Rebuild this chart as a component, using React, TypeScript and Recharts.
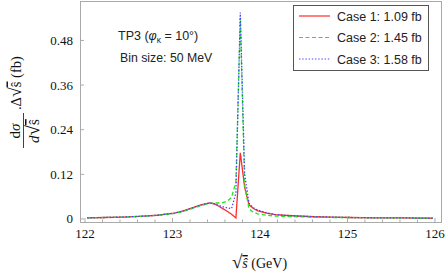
import React from "react";
import { LineChart, Line, XAxis, YAxis } from "recharts";

// bin centres in GeV (50 MeV bins, sparser where the curves are flat)
const energies = [
  122.025, 122.225, 122.425, 122.625, 122.825, 123.025, 123.125, 123.225,
  123.325, 123.425, 123.475, 123.525, 123.575, 123.625, 123.675, 123.725,
  123.775, 123.825, 123.875, 123.925, 123.975, 124.075, 124.175, 124.275,
  124.425, 124.625, 124.825, 125.025, 125.325, 125.625, 125.975,
];

const case1 = [
  0.003, 0.004, 0.005, 0.007, 0.01, 0.016, 0.022, 0.03,
  0.038, 0.043, 0.041, 0.035, 0.028, 0.021, 0.013, 0.003,
  0.178, 0.085, 0.038, 0.028, 0.022, 0.016, 0.012, 0.01,
  0.008, 0.006, 0.005, 0.004, 0.003, 0.003, 0.002,
];

const case2 = [
  0.003, 0.004, 0.005, 0.007, 0.01, 0.015, 0.02, 0.028,
  0.036, 0.042, 0.043, 0.043, 0.044, 0.048, 0.058, 0.1,
  0.54, 0.09, 0.027, 0.018, 0.014, 0.01, 0.008, 0.007,
  0.006, 0.005, 0.004, 0.004, 0.003, 0.003, 0.002,
];

const case3 = [
  0.003, 0.004, 0.005, 0.007, 0.01, 0.016, 0.022, 0.03,
  0.038, 0.043, 0.041, 0.037, 0.033, 0.03, 0.028, 0.07,
  0.555, 0.12, 0.042, 0.03, 0.024, 0.017, 0.012, 0.01,
  0.008, 0.006, 0.005, 0.004, 0.003, 0.003, 0.002,
];

const caseLabels = ["Case 1: 1.09 fb", "Case 2: 1.45 fb", "Case 3: 1.58 fb"];

const xTicks = [
  122, 122.2, 122.4, 122.6, 122.8, 123, 123.2, 123.4, 123.6, 123.8, 124,
  124.2, 124.4, 124.6, 124.8, 125, 125.2, 125.4, 125.6, 125.8, 126,
];
const yTicks = [0, 0.12, 0.24, 0.36, 0.48];

const data = energies.map((e, i) => ({
  e,
  c1: case1[i],
  c2: case2[i],
  c3: case3[i],
}));

const series = [
  { key: "c1", color: "#ff2a2a", dash: undefined },
  { key: "c2", color: "#22e622", dash: "4 2.5" },
  { key: "c3", color: "#4545ff", dash: "1.4 1.8" },
];

const FRAME = "#aaaaaa";
const SERIF = "'Liberation Serif', 'DejaVu Serif', serif";
const SANS = "'Liberation Sans', Arial, sans-serif";

const XTick = (props: any) => {
  const { x, y, payload } = props;
  const v = payload.value;
  const major = Math.abs(v - Math.round(v)) < 1e-6;
  return (
    <g>
      <line x1={x} x2={x} y1={y} y2={y - (major ? 4 : 2.5)} stroke={FRAME} />
      {major && (
        <text x={x} y={y + 15.5} textAnchor="middle" fontFamily={SERIF} fontSize={13} fill="#111">
          {Math.round(v)}
        </text>
      )}
    </g>
  );
};

const YTick = (props: any) => {
  const { x, y, payload } = props;
  return (
    <g>
      <line x1={x} x2={x + 4} y1={y} y2={y} stroke={FRAME} />
      <text x={x - 7} y={y + 4.5} textAnchor="end" fontFamily={SERIF} fontSize={13} fill="#111">
        {String(payload.value)}
      </text>
    </g>
  );
};

export default function App() {
  return (
    <div style={{ position: "absolute", left: 0, top: 0, width: 447, height: 273, background: "#fff" }}>
      <LineChart width={447} height={273} data={data} margin={{ top: 1, right: 6, bottom: 11, left: 20 }}>
        <XAxis
          dataKey="e"
          type="number"
          domain={[121.943, 126.069]}
          allowDataOverflow
          ticks={xTicks}
          interval={0}
          tick={<XTick />}
          tickLine={false}
          tickSize={0}
          tickMargin={0}
          axisLine={false}
          height={40}
        />
        <YAxis
          type="number"
          domain={[-0.0081, 0.586]}
          allowDataOverflow
          ticks={yTicks}
          interval={0}
          tick={<YTick />}
          tickLine={false}
          tickSize={0}
          tickMargin={0}
          axisLine={false}
          width={60}
        />
        {series.map((s) => (
          <Line
            key={s.key}
            dataKey={s.key}
            type="linear"
            stroke={s.color}
            strokeWidth={1.3}
            strokeDasharray={s.dash}
            dot={false}
            activeDot={false}
            isAnimationActive={false}
          />
        ))}
      </LineChart>
      <svg
        width={447}
        height={273}
        style={{ position: "absolute", left: 0, top: 0, pointerEvents: "none" }}
      >
        <rect x={80.5} y={1.5} width={361} height={221} fill="none" stroke={FRAME} />

        {/* annotations */}
        <text x={118} y={40} fontFamily={SANS} fontSize={12.5} fill="#222">
          TP3 (<tspan fontStyle="italic">φ</tspan>
          <tspan fontSize={8.5} dy={3}>κ</tspan>
          <tspan dy={-3}> = 10°)</tspan>
        </text>
        <text x={120} y={61.5} fontFamily={SANS} fontSize={12.3} fill="#222">
          Bin size: 50 MeV
        </text>

        {/* legend */}
        <rect x={293.5} y={5.5} width={135} height={65} fill="#fff" stroke="#555" />
        {series.map((s, i) => (
          <g key={s.key}>
            <line
              x1={299}
              x2={330}
              y1={16 + i * 21.5}
              y2={16 + i * 21.5}
              stroke={s.color}
              strokeWidth={1.2}
              strokeDasharray={s.dash}
            />
            <text x={337} y={20.5 + i * 21.5} fontFamily={SANS} fontSize={12.5} fill="#222">
              {caseLabels[i]}
            </text>
          </g>
        ))}

        {/* x title */}
        <text x={259.5} y={268} textAnchor="middle" fontFamily={SERIF} fontSize={14} fill="#111">
          <tspan fontSize={19}>√</tspan>
          <tspan fontStyle="italic" textDecoration="overline">ŝ</tspan> (GeV)
        </text>

        {/* y title, rotated */}
        <g transform="rotate(-90)" fontFamily={SERIF} fontSize={15} fill="#111">
          <text x={-131} y={20} textAnchor="middle">
            d<tspan fontStyle="italic">σ</tspan>
          </text>
          <line x1={-148} x2={-113} y1={23.5} y2={23.5} stroke="#111" strokeWidth={0.8} />
          <text x={-131} y={39} textAnchor="middle">
            <tspan fontStyle="italic">d</tspan>
            <tspan fontSize={19}>√</tspan>
            <tspan textDecoration="overline">ŝ</tspan>
          </text>
          <text x={-110} y={20.5} fontSize={14.5}>
            .Δ<tspan fontSize={18}>√</tspan>
            <tspan textDecoration="overline">ŝ</tspan> (fb)
          </text>
        </g>
      </svg>
    </div>
  );
}
